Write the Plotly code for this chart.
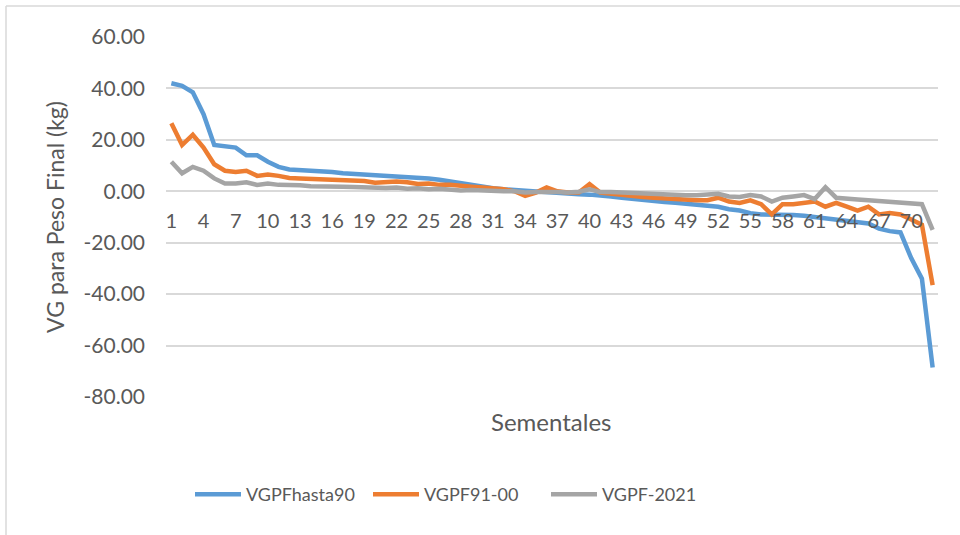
import plotly.graph_objects as go

sementales = list(range(1, 73))

vgpf_hasta90 = [42, 41, 38.5, 30, 18, 17.5, 17, 14, 14, 11.5, 9.5, 8.5, 8.3, 8, 7.8, 7.5, 7, 6.8, 6.5, 6.3,
                6, 5.8, 5.5, 5.2, 5, 4.5, 3.8, 3.2, 2.5, 1.8, 1.2, 0.8, 0.5, 0, -0.3, -0.5, -0.8, -1, -1.2, -1.3,
                -1.5, -2, -2.5, -3, -3.5, -3.8, -4.2, -4.5, -5, -5.3, -5.6, -6, -7, -7.5, -8.5, -9, -9, -9, -9.2, -9.5,
                -10, -10.5, -11, -11.5, -12, -12.5, -14.5, -15.5, -16, -26, -34, -68.5]

vgpf_91_00 = [26.5, 18, 22, 17, 10.5, 8, 7.5, 8, 6, 6.5, 6, 5.2, 5, 4.8, 4.5, 4.5, 4.3, 4.2, 4, 3.3,
              3.5, 3.8, 3.5, 2.8, 3, 2.5, 2.5, 2, 1.8, 1.5, 1.2, 0.8, 0, -1.8, -0.5, 1.5, 0, -0.5, -0.5, 2.8,
              -0.5, -1, -1.5, -2, -2.2, -2.5, -2.8, -3, -3.5, -3.5, -3.5, -2.5, -4, -4.5, -3.5, -5, -9, -5, -5, -4.5,
              -4, -6, -4.5, -6, -7.5, -6, -9, -8.5, -9, -11, -13, -36.5]

vgpf_2021 = [11.5, 7, 9.5, 8, 5, 3, 3, 3.5, 2.5, 3, 2.5, 2.5, 2.3, 2, 1.8, 1.8, 1.8, 1.7, 1.6, 1.2,
             1.3, 1.5, 1, 1.2, 0.8, 1, 0.5, 0.3, 0.5, 0.2, 0.2, 0, 0, -0.5, -0.3, -0.2, -0.3, -0.5, -0.2, 0.8,
             -0.3, -0.3, -0.5, -0.8, -1, -1, -1, -1.2, -1.5, -1.5, -1.3, -1, -2, -2.2, -1.5, -2, -4, -2.5, -2, -1.5,
             -3, 1.6, -2.5, -3, -3.2, -3.5, -3.8, -4, -4.3, -4.8, -5, -15]

series_names = ["VGPFhasta90", "VGPF91-00", "VGPF-2021"]
x_tick_vals = list(range(1, 73, 3))
x_tick_text = [str(v) for v in x_tick_vals]
y_tick_vals = [60, 40, 20, 0, -20, -40, -60, -80]
y_tick_text = ["60.00", "40.00", "20.00", "0.00", "-20.00", "-40.00", "-60.00", "-80.00"]

colors = ["#5B9BD5", "#ED7D31", "#A5A5A5"]
FONT = "Lato"
GREY = "#595959"

fig = go.Figure()
for name, ys, c in zip(series_names, [vgpf_hasta90, vgpf_91_00, vgpf_2021], colors):
    fig.add_trace(go.Scatter(x=sementales, y=ys, mode="lines", name=name,
                             line=dict(color=c, width=4.5)))

L, R, T, B = 166, 938, 37, 397
W, H = 960, 535
def px(x):
    return (x - L) / (R - L)
def py(y):
    return (B - y) / (B - T)

fig.update_layout(
    width=W, height=H,
    margin=dict(l=L, r=W - R, t=T, b=H - B),
    paper_bgcolor="white", plot_bgcolor="white",
    font=dict(family=FONT, color=GREY),
    showlegend=True,
    legend=dict(orientation="h", x=px(190), y=py(476), xanchor="left", yanchor="top",
                font=dict(size=18, color=GREY, family=FONT), itemwidth=46,
                entrywidth=117, entrywidthmode="pixels",
                traceorder="normal", bgcolor="rgba(0,0,0,0)"),
    xaxis=dict(range=[0.5, 72.5], tickmode="array", tickvals=x_tick_vals, ticktext=x_tick_text,
               showgrid=False, zeroline=False, showline=False, anchor="free", position=80 / 140,
               tickfont=dict(size=20, color=GREY, family=FONT), ticks="", ticklabelstandoff=16),
    yaxis=dict(range=[-80, 60], tickmode="array", tickvals=y_tick_vals, ticktext=y_tick_text,
               showgrid=True, gridcolor="#D9D9D9", gridwidth=1.5, zeroline=False, showline=False,
               tickfont=dict(size=21, color=GREY, family=FONT), ticks="", ticklabelstandoff=20,
               title=dict(text="VG para Peso Final (kg)", font=dict(size=23, color=GREY, family=FONT),
                          standoff=12)),
    annotations=[dict(text="Sementales", xref="paper", yref="paper", x=px(551), y=py(421),
                      xanchor="center", yanchor="middle", showarrow=False,
                      font=dict(size=24, color=GREY, family=FONT))],
    shapes=[
        dict(type="line", xref="paper", yref="paper", x0=px(6), x1=px(6), y0=py(540), y1=py(6),
             line=dict(color="#D9D9D9", width=1.5)),
        dict(type="line", xref="paper", yref="paper", x0=px(6), x1=px(965), y0=py(6), y1=py(6),
             line=dict(color="#D9D9D9", width=1.5)),
    ],
)

fig.write_html("out.html", config={"displayModeBar": False},
               post_script="document.body.style.margin='0';document.body.style.overflow='hidden';")
